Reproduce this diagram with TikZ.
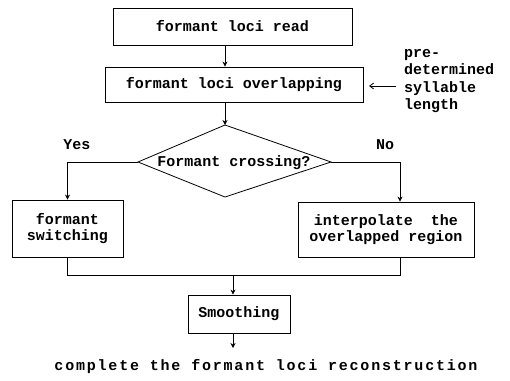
\documentclass[tikz,border=0pt]{standalone}
\usepackage{fontspec}
\setmonofont{Liberation Mono}
\newfontfamily\widemono[LetterSpace=12]{Liberation Mono}
\usetikzlibrary{arrows.meta}
\begin{document}
\begin{tikzpicture}[x=1pt,y=-1pt,
  every node/.style={font=\fontsize{15}{16}\selectfont\ttfamily\bfseries, inner sep=0pt},
  box/.style={draw, line width=0.8pt, align=center},
  arr/.style={line width=0.8pt, -{Stealth[length=5pt,width=5pt]}},
  ln/.style={line width=0.8pt},
  barb/.style={line width=0.8pt, -{Straight Barb[length=4pt,width=6pt]}}]
\useasboundingbox (0,0) rectangle (510,380);
% boxes
\node[box, minimum width=239pt, minimum height=37pt] (b1) at (232.5,26.5) {formant loci read};
\node[box, minimum width=258pt, minimum height=35pt] (b2) at (234,84.5) {formant loci overlapping};
\node[box, minimum width=111pt, minimum height=57pt] (b3) at (67.5,228.5) {formant\\switching};
\node[box, minimum width=176pt, minimum height=55pt] (b4) at (386,229.5) {interpolate\ \ the\\overlapped region};
\node[box, minimum width=102pt, minimum height=38pt] (b5) at (239,314) {Smoothing};
% diamond (skewed)
\coordinate (dt) at (225,125);
\coordinate (dl) at (138,162);
\coordinate (dr) at (331,162);
\coordinate (db) at (225,197);
\draw[ln] (dt) -- (dr) -- (db) -- (dl) -- cycle;
\node (dq) at (234,163) {Formant crossing?};
% labels
\node (yes) at (77,145) {Yes};
\node (no) at (385,145) {No};
\node[align=left, anchor=west, font=\fontsize{15}{17.5}\selectfont\ttfamily\bfseries] (side) at (404,81) {pre-\\determined\\syllable\\length};
\node (endtxt) at (266,367) {\fontsize{15}{16}\selectfont\widemono\bfseries complete the formant loci reconstruction};
% connectors
\coordinate (st) at (369,86);
\coordinate (sa) at (396,86);
\coordinate (rj) at (400,162);
\coordinate (jm) at (233,275);
\coordinate (jr) at (400,275);
\coordinate (fin) at (233,348);
\draw[arr] (b1.south -| dt) -- (b2.north -| dt);
\draw[arr] (b2.south -| dt) -- (dt);
\draw[barb] (sa) -- (st);
\draw[arr] (dl) -| (b3.north);
\draw[arr] (dr) -- (rj) -- (rj |- b4.north);
\draw[ln] (b3.south) |- (jr) -- (jr |- b4.south);
\draw[arr] (jm) -- (b5.north -| jm);
\draw[arr] (b5.south -| jm) -- (fin);
\end{tikzpicture}
\end{document}
